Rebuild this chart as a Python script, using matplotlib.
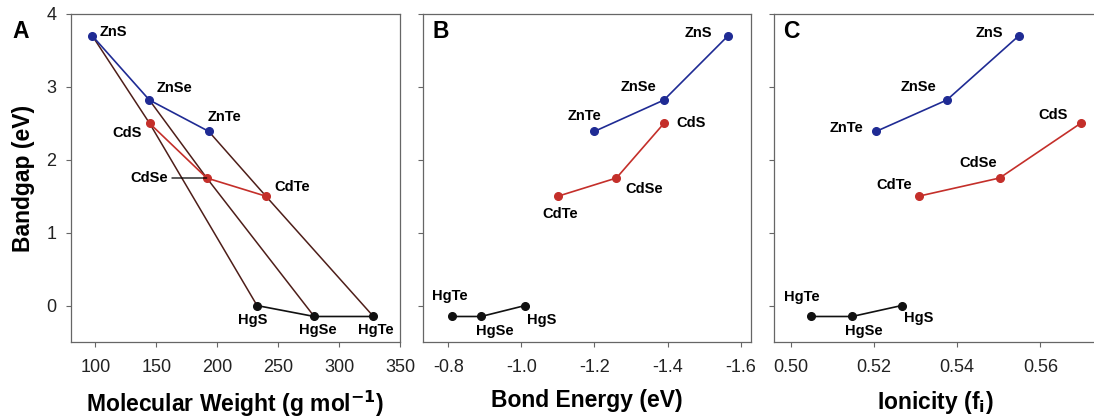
import matplotlib
matplotlib.use("Agg")
import matplotlib.pyplot as plt

# compounds and their properties
compounds = ["ZnS", "ZnSe", "ZnTe", "CdS", "CdSe", "CdTe", "HgS", "HgSe", "HgTe"]
bandgap = [3.70, 2.82, 2.39, 2.50, 1.75, 1.50, 0.00, -0.15, -0.15]
mol_weight = [97.5, 144.3, 193.0, 144.5, 191.4, 240.0, 232.7, 279.6, 328.2]
bond_energy = [-1.565, -1.39, -1.20, -1.39, -1.26, -1.10, -1.01, -0.89, -0.81]
ionicity = [0.5548, 0.5375, 0.5205, 0.5697, 0.5502, 0.5307, 0.5266, 0.5147, 0.5047]

# series (cation groups) and anion groups, as compound names
cation_groups = {
    "Zn": ["ZnS", "ZnSe", "ZnTe"],
    "Cd": ["CdS", "CdSe", "CdTe"],
    "Hg": ["HgS", "HgSe", "HgTe"],
}
anion_groups = [["ZnS", "CdS", "HgS"], ["ZnSe", "CdSe", "HgSe"], ["ZnTe", "CdTe", "HgTe"]]

colors = {"Zn": "#1f2b94", "Cd": "#c42f2a", "Hg": "#111111"}
BROWN = "#4e1e19"

plt.rcParams["font.family"] = ["Liberation Sans", "DejaVu Sans"]

# label offsets in pixels (dx, dy, ha) for each panel
offsets_a = {
    "ZnS": (7, 4, "left"), "ZnSe": (7, 12, "left"), "ZnTe": (-1, 14, "left"),
    "CdS": (-8, -10, "right"), "CdSe": (-39, 0, "right"), "CdTe": (8, 9, "left"),
    "HgS": (-4, -14, "center"), "HgSe": (4, -14, "center"), "HgTe": (2, -14, "center"),
}
offsets_b = {
    "ZnS": (-16, 3, "right"), "ZnSe": (-8, 13, "right"), "ZnTe": (-10, 15, "center"),
    "CdS": (12, 0, "left"), "CdSe": (9, -11, "left"), "CdTe": (2, -18, "center"),
    "HgS": (17, -14, "center"), "HgSe": (14, -15, "center"), "HgTe": (-2, 20, "center"),
}
offsets_c = {
    "ZnS": (-16, 3, "right"), "ZnSe": (-10, 13, "right"), "ZnTe": (-13, 3, "right"),
    "CdS": (-13, 8, "right"), "CdSe": (-3, 15, "right"), "CdTe": (-7, 11, "right"),
    "HgS": (17, -12, "center"), "HgSe": (12, -15, "center"), "HgTe": (-9, 19, "center"),
}

LABEL_FS = 10.5
AXIS_FS = 16.5
TICK_FS = 13

W, H = 1094, 417
fig = plt.figure(figsize=(W / 100, H / 100), dpi=100)


def px_axes(left, right, top=14, bottom=342):
    return fig.add_axes([left / W, (H - bottom) / H, (right - left) / W, (bottom - top) / H])


ax_a = px_axes(71, 400)
ax_b = px_axes(423, 751)
ax_c = px_axes(774, 1096)

idx = {name: i for i, name in enumerate(compounds)}


def draw_panel(ax, xvals, offsets, with_anion_lines=False):
    if with_anion_lines:
        for grp in anion_groups:
            ax.plot([xvals[idx[n]] for n in grp], [bandgap[idx[n]] for n in grp],
                    color=BROWN, lw=1.1, zorder=2)
    for cat, grp in cation_groups.items():
        ax.plot([xvals[idx[n]] for n in grp], [bandgap[idx[n]] for n in grp],
                color=colors[cat], lw=1.2, marker="o", ms=5.5, zorder=3)
    for name in compounds:
        dx, dy, ha = offsets[name]
        i = idx[name]
        kw = dict(xytext=(dx, dy), textcoords="offset pixels", ha=ha, va="center",
                  fontsize=LABEL_FS, fontweight="bold")
        if with_anion_lines and name == "CdSe":
            # leader line from label to point
            kw["arrowprops"] = dict(arrowstyle="-", color="black", lw=0.9,
                                    shrinkA=1, shrinkB=0)
        ax.annotate(name, (xvals[i], bandgap[i]), **kw)
    ax.set_ylim(-0.5, 4)
    ax.set_yticks([0, 1, 2, 3, 4])
    for side in ax.spines:
        ax.spines[side].set_color("#666666")
        ax.spines[side].set_linewidth(0.9)
    ax.tick_params(direction="out", length=3.5, width=0.8, color="#666666",
                   labelsize=TICK_FS, labelcolor="#222222", pad=7)
    ax.tick_params(axis="x", pad=9)


draw_panel(ax_a, mol_weight, offsets_a, with_anion_lines=True)
ax_a.set_xlim(80, 350)
ax_a.set_xticks([100, 150, 200, 250, 300, 350])
ax_a.set_ylabel("Bandgap (eV)", fontsize=AXIS_FS, fontweight="bold", labelpad=8)
ax_a.set_xlabel("Molecular Weight (g mol$^{\\mathbf{-1}}$)", fontsize=AXIS_FS,
                fontweight="bold", labelpad=9)

draw_panel(ax_b, bond_energy, offsets_b)
ax_b.set_xlim(-0.731, -1.628)
ax_b.set_xticks([-0.8, -1.0, -1.2, -1.4, -1.6])
ax_b.set_xticklabels(["-0.8", "-1.0", "-1.2", "-1.4", "-1.6"])
ax_b.set_yticklabels([])
ax_b.set_xlabel("Bond Energy (eV)", fontsize=AXIS_FS, fontweight="bold", labelpad=9)

draw_panel(ax_c, ionicity, offsets_c)
ax_c.set_xlim(0.4959, 0.5734)
ax_c.set_xticks([0.50, 0.52, 0.54, 0.56])
ax_c.set_yticklabels([])
ax_c.set_xlabel("Ionicity (f$_\\mathbf{i}$)", fontsize=AXIS_FS, fontweight="bold", labelpad=9)

# panel letters
fig.text(12 / W, 1 - 31 / H, "A", fontsize=16.5, fontweight="bold", va="center")
fig.text(433 / W, 1 - 31 / H, "B", fontsize=16.5, fontweight="bold", va="center")
fig.text(783 / W, 1 - 31 / H, "C", fontsize=16.5, fontweight="bold", va="center")

fig.savefig("out.png", dpi=100)
